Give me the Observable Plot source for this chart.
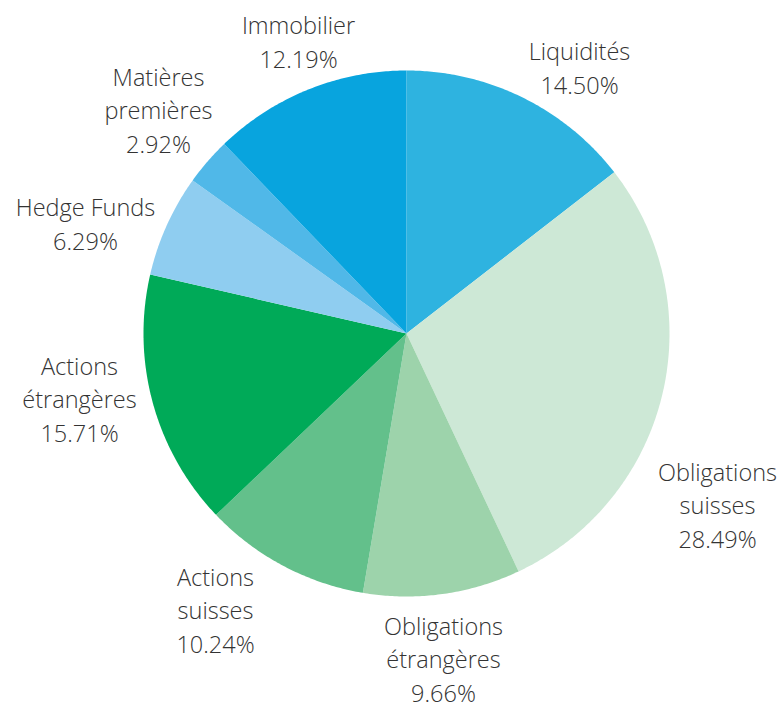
<!DOCTYPE html>
<html>
<head>
<meta charset="utf-8">
<script src="https://cdn.jsdelivr.net/npm/d3@7"></script>
<script src="https://cdn.jsdelivr.net/npm/@observablehq/plot@0.6"></script>
<style>
  html, body { margin: 0; padding: 0; background: #fff; }
  #chart svg { display: block; }
</style>
</head>
<body>
<div id="chart"></div>
<script>
// Data (clockwise from 12 o'clock)
const categories = ["Liquidités", "Obligations suisses", "Obligations étrangères", "Actions suisses", "Actions étrangères", "Hedge Funds", "Matières premières", "Immobilier"];
const labelLines = [["Liquidités"], ["Obligations", "suisses"], ["Obligations", "étrangères"], ["Actions", "suisses"], ["Actions", "étrangères"], ["Hedge Funds"], ["Matières", "premières"], ["Immobilier"]];
const values = [14.50, 28.49, 9.66, 10.24, 15.71, 6.29, 2.92, 12.19];
const colors = ["#2eb3e0", "#cde8d6", "#9dd3ab", "#63c08b", "#00aa58", "#8fcdf0", "#50b8e8", "#08a4de"];

// Layout
const W = 784, H = 711;
const cx = 406, cy = 333, R = 263;
const labelPos = [[579, 66], [717, 503], [443, 657], [215, 608], [79, 397], [85, 222], [158, 108], [298, 40]];

const arcs = d3.pie().sort(null).value(d => d)(values);
const pts = [];
arcs.forEach((a, i) => {
  const cat = categories[i];
  pts.push({cat, x: cx, y: cy});
  const n = Math.max(2, Math.ceil((a.endAngle - a.startAngle) / (Math.PI / 360)));
  for (let k = 0; k <= n; k++) {
    const t = a.startAngle + (a.endAngle - a.startAngle) * k / n;
    pts.push({cat, x: cx + R * Math.sin(t), y: cy - R * Math.cos(t)});
  }
  pts.push({cat, x: cx, y: cy});
});

const labels = categories.map((c, i) => ({
  cat: c,
  x: labelPos[i][0],
  y: labelPos[i][1],
  text: [...labelLines[i], values[i].toFixed(2) + "%"].join("\n")
}));

const chart = Plot.plot({
  width: W,
  height: H,
  margin: 0,
  x: {domain: [0, W], range: [0, W], axis: null},
  y: {domain: [0, H], range: [0, H], axis: null},
  color: {domain: categories, range: colors},
  style: {fontFamily: "'Open Sans', sans-serif", background: "#fff"},
  marks: [
    Plot.line(pts, {x: "x", y: "y", z: "cat", fill: "cat", stroke: "none", curve: "linear"}),
    Plot.text(labels, {
      x: "x", y: "y", text: "text",
      fontSize: 23.5, fontWeight: 300, fill: "#333",
      lineHeight: 1.44, textAnchor: "middle", lineAnchor: "middle"
    })
  ]
});
document.getElementById("chart").appendChild(chart);
</script>
</body>
</html>
